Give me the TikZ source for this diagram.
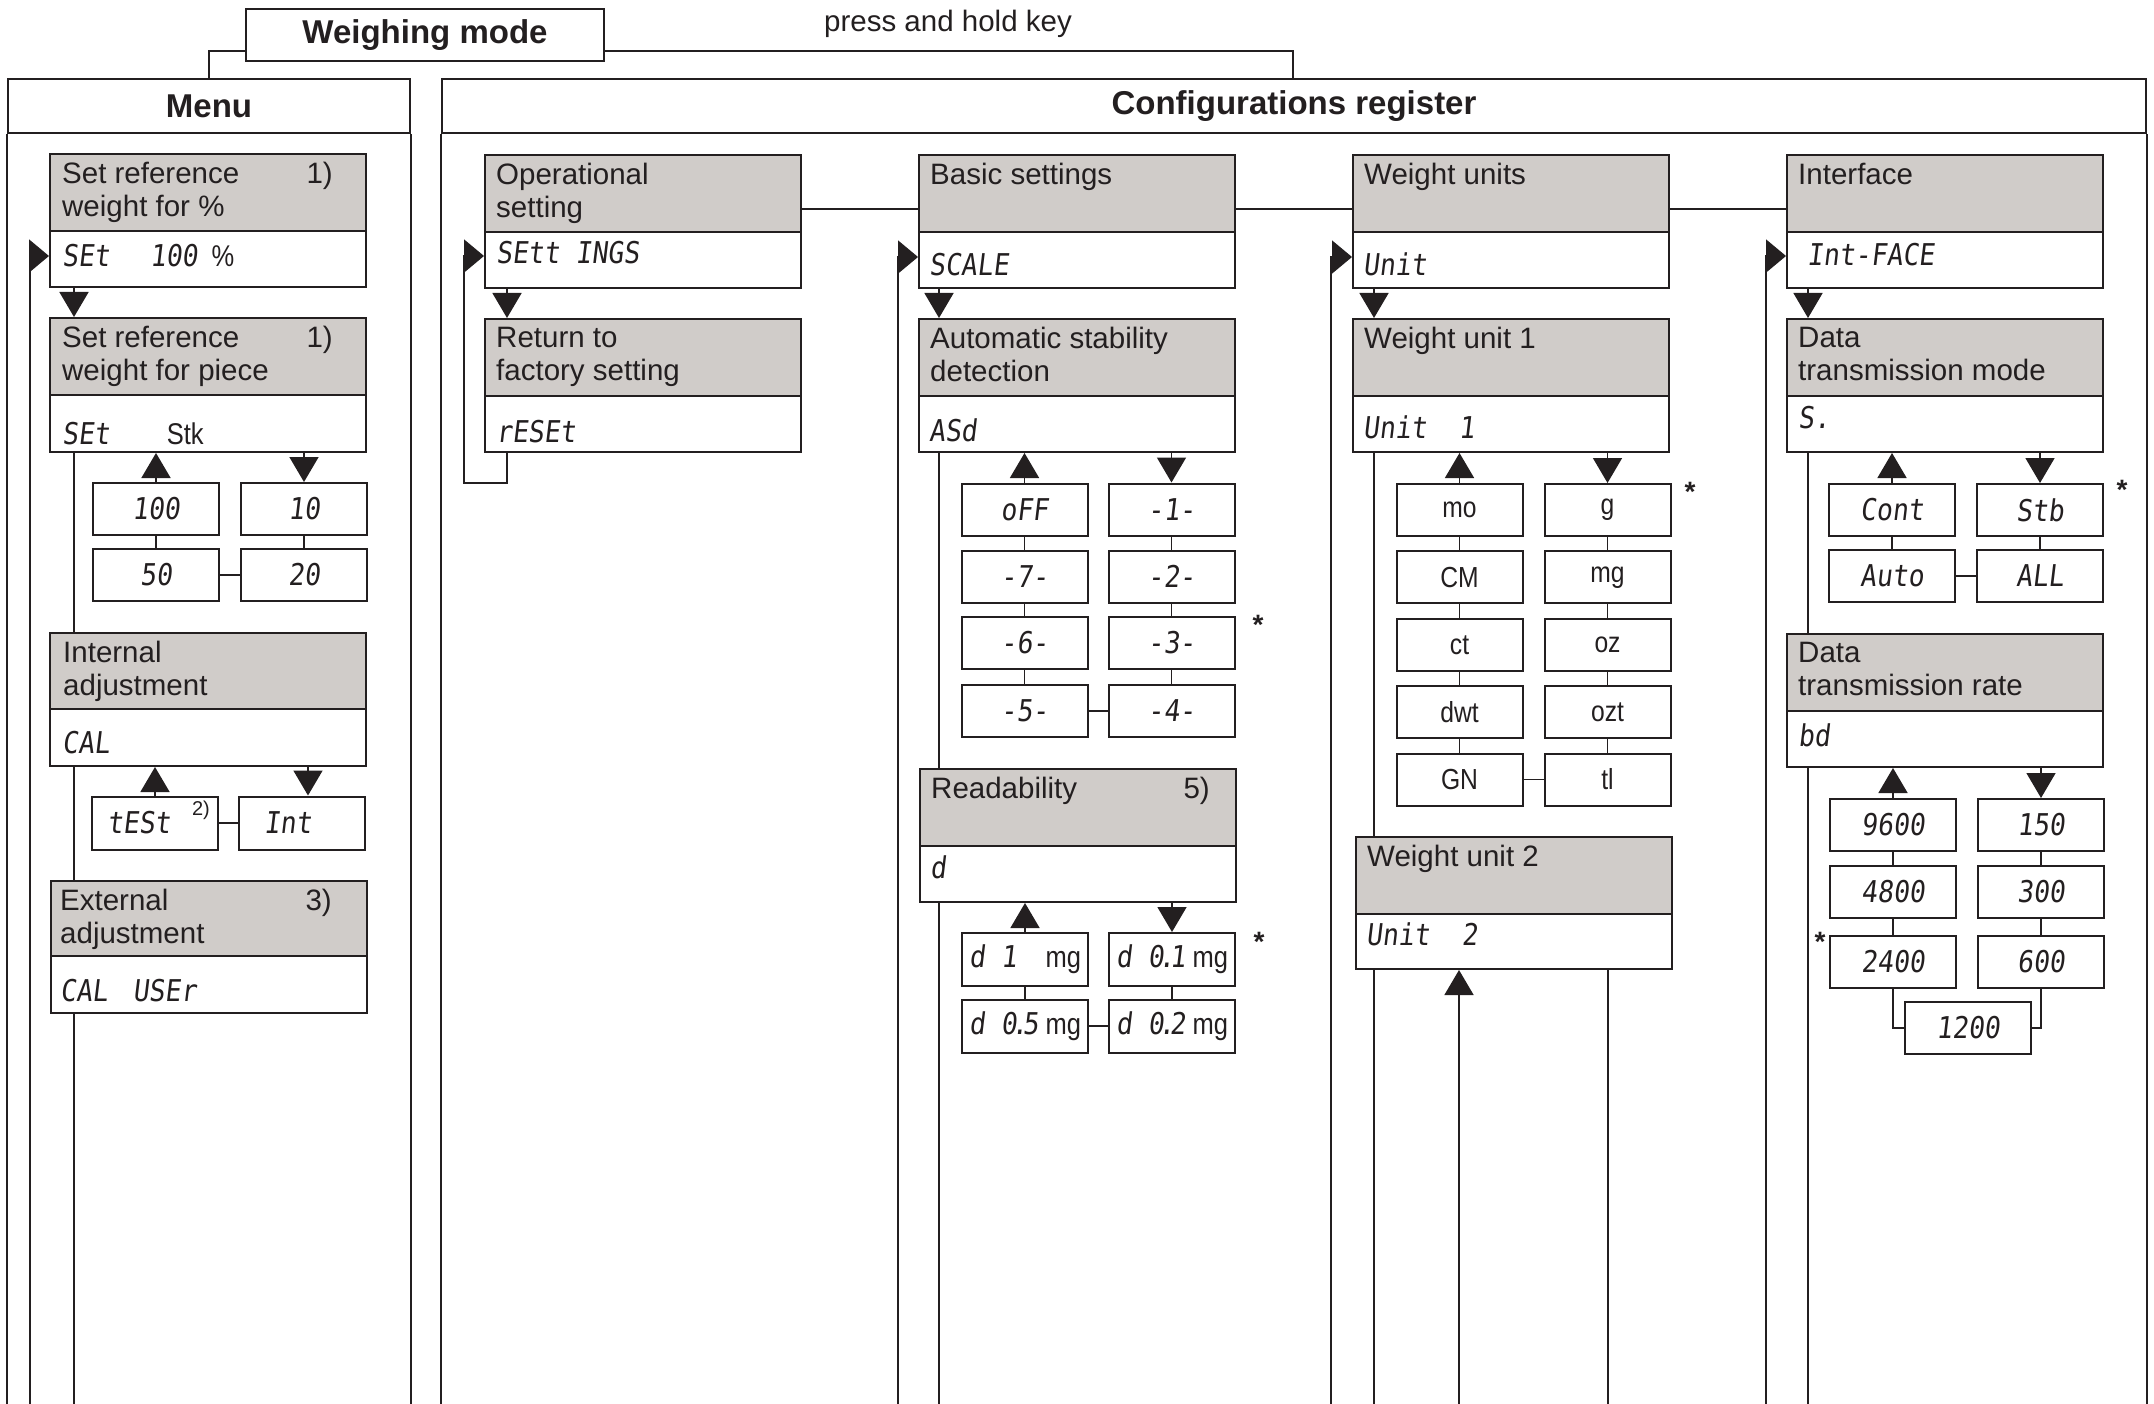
\documentclass[tikz,border=0pt]{standalone}
\usepackage{fontspec}
\setmainfont{Liberation Sans}
\newfontfamily\lcd[FakeSlant=0.12,FakeStretch=0.88]{DejaVu Sans Mono}
\newfontfamily\narrowf[FakeStretch=0.85]{Liberation Sans}
\usetikzlibrary{arrows.meta,fit}
\definecolor{hdr}{HTML}{D0CCC9}
\definecolor{ink}{HTML}{231F20}
\newcommand\regbox[6]{%
  \node[boxframe, fit={(#2,#3) (#4,#6)}] (#1) {};
  \node[hdrframe, fit={(#2,#3) (#4,#5)}] (#1h) {};
}
\begin{document}
\begin{tikzpicture}[x=1pt,y=-1pt,
  boxframe/.style={draw=ink, line width=2pt, inner sep=0pt, fill=white},
  hdrframe/.style={draw=ink, line width=2pt, inner sep=0pt, fill=hdr},
  hdrtext/.style={anchor=north west, inner sep=0pt, align=left, text=ink, font=\fontsize{29.5}{33}\selectfont},
  notetext/.style={anchor=north east, inner sep=0pt, text=ink, font=\fontsize{29.5}{33}\selectfont},
  lcdtext/.style={anchor=west, inner sep=0pt, text=ink, font={\lcd\fontsize{30}{34}\selectfont}},
  optbox/.style={draw=ink, line width=2pt, minimum width=126pt, minimum height=52pt, inner sep=0pt, text=ink, fill=white, font={\lcd\fontsize{30}{34}\selectfont}},
  optu/.style={optbox, font={\narrowf\fontsize{29}{33}\selectfont}},
  conn/.style={draw=ink, line width=1.6pt},
  arr/.style={conn, -{Triangle[length=25pt,width=29pt]}},
  sarr/.style={conn, -{Triangle[length=20pt,width=33pt]}},
  frame/.style={draw=ink, line width=2.2pt},
  title/.style={inner sep=0pt, text=ink, font=\fontsize{33}{36}\selectfont\bfseries},
  star/.style={inner sep=0pt, text=ink, font=\fontsize{28}{30}\selectfont\bfseries},
  plain/.style={inner sep=0pt, text=ink, font=\fontsize{29.5}{33}\selectfont}]
\useasboundingbox (0,0) rectangle (2154,1404);
\fill[white] (0,0) rectangle (2154,1404);

\coordinate (bot) at (0,1412);
\coordinate (sA) at (74,0);   \coordinate (lA) at (30,0);
\coordinate (sB) at (507,0);  \coordinate (lB) at (464,0);
\coordinate (sC) at (939,0);  \coordinate (lC) at (898,0);
\coordinate (sD) at (1374,0); \coordinate (lD) at (1331,0);
\coordinate (sE) at (1808,0); \coordinate (lE) at (1766,0);
\coordinate (dU) at (1459,0); \coordinate (dV) at (1608,0);
\coordinate (iA) at (308,0);

% ---------- top frame ----------
\node[frame, fill=white, minimum width=358pt, minimum height=52pt, inner sep=0pt, text=ink, font=\fontsize{33}{36}\selectfont\bfseries] (WM) at (425,35) {Weighing mode};
\node[plain] (PH) at (948,24) {press and hold key};
\node[frame, fit={(8,79) (410,133)}, inner sep=0pt] (MenuH) {};
\node[title] (MenuT) at (MenuH.center) {Menu};
\node[frame, fit={(442,79) (2146,133)}, inner sep=0pt] (CfgH) {};
\node[title] (CfgT) at (CfgH.center) {Configurations register};
\draw[frame] (MenuH.south west) -- (MenuH.south west |- bot);
\draw[frame] (MenuH.south east) -- (MenuH.south east |- bot);
\draw[frame] (CfgH.south west) -- (CfgH.south west |- bot);
\draw[frame] (CfgH.south east) -- (CfgH.south east |- bot);
\draw[conn] (WM.west |- 0,51) -| (MenuH.north -| 209,0);
\draw[conn] (WM.east |- 0,51) -| (CfgH.north -| 1293,0);

% ---------- Menu column ----------
\regbox{A1}{50}{154}{366}{231}{287}
\node[hdrtext] (A1t) at (62,162) {Set reference\\weight for \%};
\node[notetext] (A1n) at (333,162) {1)};
\node[lcdtext] (A1v) at (62,256) {SEt\hspace{40pt}100\hspace{14pt}{\narrowf\%}};

\regbox{A2}{50}{318}{366}{395}{452}
\node[hdrtext] (A2t) at (62,326) {Set reference\\weight for piece};
\node[notetext] (A2n) at (333,326) {1)};
\node[lcdtext] (A2v) at (62,434) {SEt\hspace{57pt}{\narrowf Stk}};

\node[optbox] (oA100) at (156,509) {100};
\node[optbox] (oA10)  at (304,509) {10};
\node[optbox] (oA50)  at (156,575) {50};
\node[optbox] (oA20)  at (304,575) {20};

\regbox{A3}{50}{633}{366}{709}{766}
\node[hdrtext] (A3t) at (63,641) {Internal\\adjustment};
\node[lcdtext] (A3v) at (62,743) {CAL};
\node[optbox, minimum height=53pt] (oAtest) at (155,823) {\makebox[96pt][l]{tESt}};
\node[optbox, minimum height=53pt] (oAint)  at (302,823) {\makebox[76pt][l]{Int}};
\node[inner sep=0pt, text=ink, font=\fontsize{20}{22}\selectfont] (n2) at (201,810) {2)};

\regbox{A4}{51}{881}{367}{956}{1013}
\node[hdrtext] (A4t) at (60,889) {External\\adjustment};
\node[notetext] (A4n) at (332,889) {3)};
\node[lcdtext] (A4v) at (60,991) {CAL\hspace{25pt}USEr};

\draw[arr] (sA |- A1.south) -- (sA |- A2.north);
\draw[conn] (sA |- A2.south) -- (sA |- A3.north);
\draw[conn] (sA |- A3.south) -- (sA |- A4.north);
\draw[conn] (sA |- A4.south) -- (sA |- bot);
\draw[sarr] (lA |- bot) |- (A1.west |- 0,256);
\draw[arr] (oA100.north) -- (oA100.north |- A2.south);
\draw[arr] (oA10.north |- A2.south) -- (oA10.north);
\draw[conn] (oA100) -- (oA50);
\draw[conn] (oA10) -- (oA20);
\draw[conn] (oA50) -- (oA20);
\draw[arr] (oAtest.north) -- (oAtest.north |- A3.south);
\draw[arr] (iA |- A3.south) -- (iA |- oAint.north);
\draw[conn] (oAtest) -- (oAint);

% ---------- Operational setting ----------
\regbox{B1}{485}{155}{801}{232}{288}
\node[hdrtext] (B1t) at (496,163) {Operational\\setting};
\node[lcdtext] (B1v) at (496,253) {SEtt INGS};
\regbox{B2}{485}{319}{801}{396}{452}
\node[hdrtext] (B2t) at (496,327) {Return to\\factory setting};
\node[lcdtext] (B2v) at (496,432) {rESEt};
\draw[arr] (sB |- B1.south) -- (sB |- B2.north);
\draw[sarr] (sB |- B2.south) -- (sB |- 0,483) -| (lB |- 0,256) -- (B1.west |- 0,256);

% ---------- Basic settings ----------
\regbox{C1}{919}{155}{1235}{232}{288}
\node[hdrtext] (C1t) at (930,163) {Basic settings};
\node[lcdtext] (C1v) at (929,265) {SCALE};
\regbox{C2}{919}{319}{1235}{396}{452}
\node[hdrtext] (C2t) at (930,327) {Automatic stability\\detection};
\node[lcdtext] (C2v) at (929,430) {ASd};
\node[optbox] (oC1) at (1024.5,509.5) {oFF};
\node[optbox] (oC2) at (1024.5,576.5) {-7-};
\node[optbox] (oC3) at (1024.5,643) {-6-};
\node[optbox] (oC4) at (1024.5,711) {-5-};
\node[optbox] (oC5) at (1171.5,509.5) {-1-};
\node[optbox] (oC6) at (1171.5,576.5) {-2-};
\node[optbox] (oC7) at (1171.5,643) {-3-};
\node[optbox] (oC8) at (1171.5,711) {-4-};
\node[star] (stC2) at (1258,625) {*};
\regbox{C3}{920}{769}{1236}{846}{902}
\node[hdrtext] (C3t) at (931,777) {Readability};
\node[notetext] (C3n) at (1210,777) {5)};
\node[lcdtext] (C3v) at (930,867) {d};
\node[optbox, minimum height=53pt] (oR1) at (1025,959.5) {\makebox[112pt][l]{d 1\hfill{\narrowf mg}}};
\node[optbox, minimum height=53pt] (oR2) at (1025,1026) {\makebox[112pt][l]{d 0\kern-5pt.\kern-5pt5\hfill{\narrowf mg}}};
\node[optbox, minimum height=53pt] (oR3) at (1172,959.5) {\makebox[112pt][l]{d 0\kern-5pt.\kern-5pt1\hfill{\narrowf mg}}};
\node[optbox, minimum height=53pt] (oR4) at (1172,1026) {\makebox[112pt][l]{d 0\kern-5pt.\kern-5pt2\hfill{\narrowf mg}}};
\node[star] (stC3) at (1259,942) {*};
\draw[arr] (sC |- C1.south) -- (sC |- C2.north);
\draw[conn] (sC |- C2.south) -- (sC |- C3.north);
\draw[conn] (sC |- C3.south) -- (sC |- bot);
\draw[sarr] (lC |- bot) |- (C1.west |- 0,257);
\draw[arr] (oC1.north) -- (oC1.north |- C2.south);
\draw[arr] (oC5.north |- C2.south) -- (oC5.north);
\draw[conn] (oC1) -- (oC2); \draw[conn] (oC2) -- (oC3); \draw[conn] (oC3) -- (oC4);
\draw[conn] (oC5) -- (oC6); \draw[conn] (oC6) -- (oC7); \draw[conn] (oC7) -- (oC8);
\draw[conn] (oC4) -- (oC8);
\draw[arr] (oR1.north) -- (oR1.north |- C3.south);
\draw[arr] (oR3.north |- C3.south) -- (oR3.north);
\draw[conn] (oR1) -- (oR2); \draw[conn] (oR3) -- (oR4); \draw[conn] (oR2) -- (oR4);

% ---------- Weight units ----------
\regbox{D1}{1353}{155}{1669}{232}{288}
\node[hdrtext] (D1t) at (1364,163) {Weight units};
\node[lcdtext] (D1v) at (1363,264) {Unit};
\regbox{D2}{1353}{319}{1669}{396}{452}
\node[hdrtext] (D2t) at (1364,327) {Weight unit 1};
\node[lcdtext] (D2v) at (1363,427) {Unit\ \ 1};
\node[optu] (oD1) at (1459.5,510) {mo};
\node[optu] (oD2) at (1459.5,577.4) {CM};
\node[optu] (oD3) at (1459.5,644.8) {ct};
\node[optu] (oD4) at (1459.5,712.2) {dwt};
\node[optu] (oD5) at (1459.5,779.6) {GN};
\node[optu] (oD6) at (1607.5,510) {g};
\node[optu] (oD7) at (1607.5,577.4) {mg};
\node[optu] (oD8) at (1607.5,644.8) {oz};
\node[optu] (oD9) at (1607.5,712.2) {ozt};
\node[optu] (oD10) at (1607.5,779.6) {tl};
\node[star] (stD2) at (1690,492) {*};
\regbox{D3}{1356}{837}{1672}{914}{969}
\node[hdrtext] (D3t) at (1367,845) {Weight unit 2};
\node[lcdtext] (D3v) at (1366,934) {Unit\ \ 2};
\draw[arr] (sD |- D1.south) -- (sD |- D2.north);
\draw[conn] (sD |- D2.south) -- (sD |- D3.north);
\draw[conn] (sD |- D3.south) -- (sD |- bot);
\draw[sarr] (lD |- bot) |- (D1.west |- 0,257);
\draw[arr] (oD1.north) -- (oD1.north |- D2.south);
\draw[arr] (oD6.north |- D2.south) -- (oD6.north);
\draw[conn] (oD1) -- (oD2); \draw[conn] (oD2) -- (oD3); \draw[conn] (oD3) -- (oD4); \draw[conn] (oD4) -- (oD5);
\draw[conn] (oD6) -- (oD7); \draw[conn] (oD7) -- (oD8); \draw[conn] (oD8) -- (oD9); \draw[conn] (oD9) -- (oD10);
\draw[conn] (oD5) -- (oD10);
\draw[arr] (dU |- bot) -- (dU |- D3.south);
\draw[conn] (dV |- D3.south) -- (dV |- bot);

% ---------- Interface ----------
\regbox{E1}{1787}{155}{2103}{232}{288}
\node[hdrtext] (E1t) at (1798,163) {Interface};
\node[lcdtext] (E1v) at (1807,255) {Int-FACE};
\regbox{E2}{1787}{319}{2103}{396}{452}
\node[hdrtext] (E2t) at (1798,327) {Data\\transmission mode};
\node[lcdtext] (E2v) at (1798,418) {S.};
\node[optbox] (oE1) at (1892,510) {Cont};
\node[optbox] (oE2) at (1892,576) {Auto};
\node[optbox] (oE3) at (2040,510) {Stb};
\node[optbox] (oE4) at (2040,576) {ALL};
\node[star] (stE2) at (2122,490) {*};
\regbox{E3}{1787}{634}{2103}{711}{767}
\node[hdrtext] (E3t) at (1798,642) {Data\\transmission rate};
\node[lcdtext] (E3v) at (1798,735) {bd};
\node[optbox] (oF1) at (1893,825) {9600};
\node[optbox] (oF2) at (1893,892) {4800};
\node[optbox] (oF3) at (1893,962) {2400};
\node[optbox] (oF4) at (2041,825) {150};
\node[optbox] (oF5) at (2041,892) {300};
\node[optbox] (oF6) at (2041,962) {600};
\node[optbox] (oF7) at (1968,1028) {1200};
\node[star] (stE3) at (1820,942) {*};
\draw[arr] (sE |- E1.south) -- (sE |- E2.north);
\draw[conn] (sE |- E2.south) -- (sE |- E3.north);
\draw[conn] (sE |- E3.south) -- (sE |- bot);
\draw[sarr] (lE |- bot) |- (E1.west |- 0,256);
\draw[arr] (oE1.north) -- (oE1.north |- E2.south);
\draw[arr] (oE3.north |- E2.south) -- (oE3.north);
\draw[conn] (oE1) -- (oE2); \draw[conn] (oE3) -- (oE4); \draw[conn] (oE2) -- (oE4);
\draw[arr] (oF1.north) -- (oF1.north |- E3.south);
\draw[arr] (oF4.north |- E3.south) -- (oF4.north);
\draw[conn] (oF1) -- (oF2); \draw[conn] (oF2) -- (oF3);
\draw[conn] (oF4) -- (oF5); \draw[conn] (oF5) -- (oF6);
\draw[conn] (oF3.south) |- (oF7.west);
\draw[conn] (oF6.south) |- (oF7.east);

% ---------- chain ----------
\draw[conn] (B1.east |- 0,209) -- (C1.west |- 0,209);
\draw[conn] (C1.east |- 0,209) -- (D1.west |- 0,209);
\draw[conn] (D1.east |- 0,209) -- (E1.west |- 0,209);
\end{tikzpicture}
\end{document}
